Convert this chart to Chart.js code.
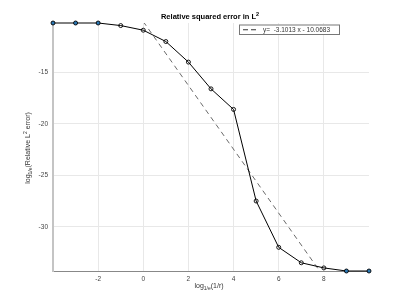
<!DOCTYPE html>
<html>
<head>
<meta charset="utf-8">
<script src="https://cdn.jsdelivr.net/npm/chart.js@4"></script>
<style>
  html, body { margin: 0; padding: 0; background: #fff; }
  #wrap { width: 407px; height: 305px; }
</style>
</head>
<body>
<div id="wrap"><canvas id="erroL2" width="407" height="305"></canvas></div>
<script>
// dados
const logInvR = [-4, -3, -2, -1, 0, 1, 2, 3, 4, 5, 6, 7, 8, 9, 10];
const logErro = [-10.2, -10.2, -10.2, -10.45, -10.9, -12.0, -14.0, -16.6, -18.6, -27.5, -32.0, -33.5, -34.0, -34.3, -34.3];
const pontosAzuis = [true, true, true, false, false, false, false, false, false, false, false, false, false, true, true];

// reta ajustada (legenda)
const ajusteInclinacao = -3.1013;
const ajusteIntercepto = -10.0683;
const ajusteX = [0, 8];

const xTicks = [-2, 0, 2, 4, 6, 8];
const yTicks = [-30, -25, -20, -15];

const fonte = "'Liberation Sans', Arial, sans-serif";

// desenha texto com sub/sobrescrito
function textoRico(ctx, partes, x, y) {
  let total = 0;
  partes.forEach(p => {
    ctx.font = (p.bold ? "bold " : "") + p.sz + "px " + fonte;
    p.w = ctx.measureText(p.t).width;
    total += p.w;
  });
  let cx = x - total / 2;
  partes.forEach(p => {
    ctx.font = (p.bold ? "bold " : "") + p.sz + "px " + fonte;
    ctx.fillText(p.t, cx, y + (p.dy || 0));
    cx += p.w;
  });
}

const textos = {
  id: "textos",
  afterDraw(chart) {
    const { ctx } = chart;
    ctx.save();
    ctx.textBaseline = "middle";
    ctx.textAlign = "left";
    ctx.fillStyle = "#000";

    // título
    textoRico(ctx, [
      { t: "Relative squared error in L", sz: 7.5, bold: true },
      { t: "2", sz: 5.5, bold: true, dy: -2.5 },
    ], 210, 16.5);

    // eixo x
    ctx.fillStyle = "#333";
    textoRico(ctx, [
      { t: "log", sz: 7 },
      { t: "1/e", sz: 5, dy: 2.5 },
      { t: "(1/r)", sz: 7 },
    ], 209, 286);

    // eixo y
    ctx.save();
    ctx.translate(28, 148);
    ctx.rotate(-Math.PI / 2);
    textoRico(ctx, [
      { t: "log", sz: 7 },
      { t: "1/e", sz: 5, dy: 2.5 },
      { t: "(Relative L", sz: 7 },
      { t: "2", sz: 5, dy: -2.5 },
      { t: " error)", sz: 7 },
    ], 0, 0);
    ctx.restore();

    // legenda
    const lx = 239, ly = 24.5, lw = 100, lh = 9.5;
    ctx.fillStyle = "#fff";
    ctx.fillRect(lx, ly, lw, lh);
    ctx.strokeStyle = "#777";
    ctx.lineWidth = 1;
    ctx.strokeRect(lx + 0.5, ly + 0.5, lw, lh);
    ctx.strokeStyle = "#333";
    ctx.setLineDash([5, 3]);
    ctx.beginPath();
    ctx.moveTo(243, ly + lh / 2 + 0.5);
    ctx.lineTo(259, ly + lh / 2 + 0.5);
    ctx.stroke();
    ctx.setLineDash([]);
    ctx.fillStyle = "#333";
    ctx.font = "6.5px " + fonte;
    ctx.fillText("y=  " + ajusteInclinacao + " x - " + Math.abs(ajusteIntercepto), 263, ly + lh / 2 + 1);
    ctx.restore();
  }
};

new Chart(document.getElementById("erroL2"), {
  type: "scatter",
  plugins: [textos],
  data: {
    datasets: [
      {
        label: "erro",
        data: logInvR.map((x, i) => ({ x, y: logErro[i] })),
        showLine: true,
        borderColor: "#000",
        borderWidth: 1,
        pointRadius: 2,
        pointBorderWidth: 0.9,
        pointBorderColor: "#000",
        pointBackgroundColor: pontosAzuis.map(b => b ? "#2a78b5" : "rgba(255,255,255,0)"),
        clip: false,
        order: 1,
      },
      {
        label: "ajuste",
        data: ajusteX.map(x => ({ x, y: ajusteInclinacao * x + ajusteIntercepto })),
        showLine: true,
        borderColor: "#444",
        borderWidth: 0.8,
        borderDash: [5, 4],
        pointRadius: 0,
        clip: 0,
        order: 2,
      },
    ],
  },
  options: {
    responsive: false,
    animation: false,
    devicePixelRatio: 1,
    layout: { padding: { top: 23, right: 38, left: 0, bottom: 0 } },
    plugins: {
      legend: { display: false },
      tooltip: { enabled: false },
    },
    scales: {
      x: {
        type: "linear",
        min: -4,
        max: 10,
        afterBuildTicks: (s) => { s.ticks = xTicks.map(v => ({ value: v })); },
        afterFit: (s) => { s.height = 34; },
        ticks: { color: "#444", padding: 4, font: { size: 6.5, family: fonte } },
        grid: { color: "#e8e8e8", drawTicks: false },
        border: { color: "#888", width: 1 },
      },
      y: {
        type: "linear",
        min: -34.3,
        max: -10.2,
        afterBuildTicks: (s) => { s.ticks = yTicks.map(v => ({ value: v })); },
        afterFit: (s) => { s.width = 53; },
        ticks: { color: "#444", padding: 5, font: { size: 6.5, family: fonte } },
        grid: { color: "#e8e8e8", drawTicks: false },
        border: { color: "#c4c4c4", width: 2 },
      },
    },
  },
});
</script>
</body>
</html>
